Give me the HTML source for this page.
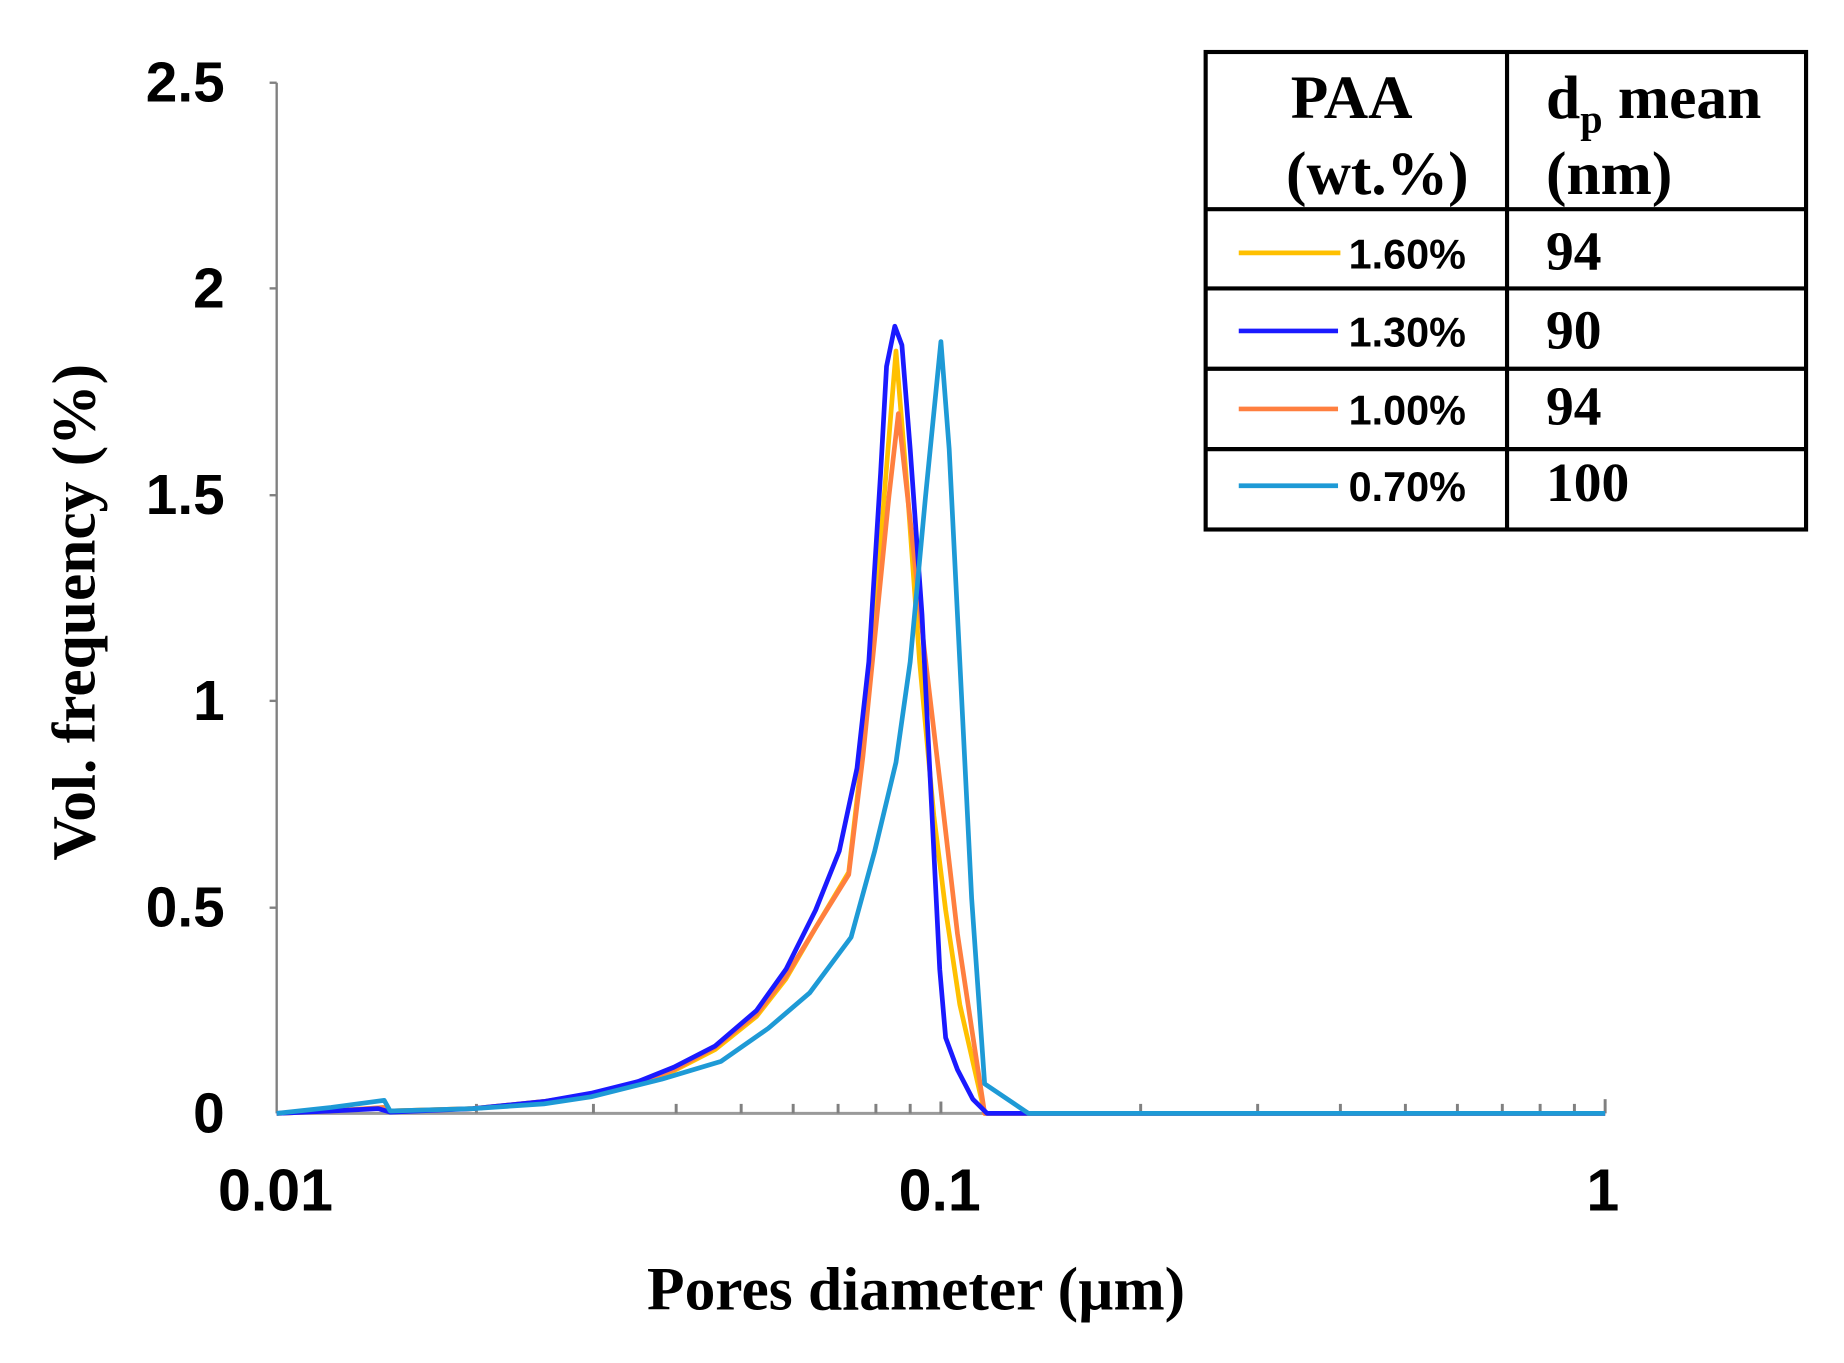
<!DOCTYPE html>
<html><head><meta charset="utf-8"><style>
html,body{margin:0;padding:0;background:#fff;}
</style></head><body>
<svg width="1844" height="1358" viewBox="0 0 1560 1149" xmlns="http://www.w3.org/2000/svg">
<rect width="1560" height="1149" fill="#fff"/>
<line x1="234" y1="70" x2="234" y2="942" stroke="#808080" stroke-width="2"/>
<line x1="234" y1="942" x2="1358" y2="942" stroke="#9a9a9a" stroke-width="2.5"/>
<g stroke="#808080" stroke-width="2">
<line x1="228" y1="70" x2="234" y2="70"/><line x1="228" y1="244" x2="234" y2="244"/><line x1="228" y1="419" x2="234" y2="419"/><line x1="228" y1="593" x2="234" y2="593"/><line x1="228" y1="768" x2="234" y2="768"/>
</g>
<g stroke="#808080" stroke-width="2.5">
<line x1="403" y1="942" x2="403" y2="934"/><line x1="502" y1="942" x2="502" y2="934"/><line x1="572" y1="942" x2="572" y2="934"/><line x1="627" y1="942" x2="627" y2="934"/><line x1="671" y1="942" x2="671" y2="934"/><line x1="709" y1="942" x2="709" y2="934"/><line x1="741" y1="942" x2="741" y2="934"/><line x1="770" y1="942" x2="770" y2="934"/><line x1="796" y1="942" x2="796" y2="932"/>
<line x1="965" y1="942" x2="965" y2="934"/><line x1="1064" y1="942" x2="1064" y2="934"/><line x1="1134" y1="942" x2="1134" y2="934"/><line x1="1189" y1="942" x2="1189" y2="934"/><line x1="1233" y1="942" x2="1233" y2="934"/><line x1="1271" y1="942" x2="1271" y2="934"/><line x1="1303" y1="942" x2="1303" y2="934"/><line x1="1332" y1="942" x2="1332" y2="934"/><line x1="1358" y1="942" x2="1358" y2="930"/>
</g>
<g font-family="Liberation Sans, sans-serif" font-weight="bold" font-size="48" fill="#000" text-anchor="end">
<text x="190" y="86">2.5</text><text x="190" y="260">2</text><text x="190" y="435">1.5</text><text x="190" y="609">1</text><text x="190" y="784">0.5</text><text x="190" y="958">0</text>
</g>
<g font-family="Liberation Sans, sans-serif" font-weight="bold" font-size="50" fill="#000" text-anchor="middle">
<text x="233" y="1024">0.01</text><text x="795" y="1024">0.1</text><text x="1356" y="1024">1</text>
</g>
<text x="775" y="1108" font-family="Liberation Serif, serif" font-weight="bold" font-size="52" text-anchor="middle">Pores diameter (µm)</text>
<text transform="translate(80,518) rotate(-90)" font-family="Liberation Serif, serif" font-weight="bold" font-size="52" text-anchor="middle">Vol. frequency (%)</text>
<g fill="none" stroke-width="4" stroke-linejoin="round">
<polyline stroke="#ffc000" points="234,942 280,940 325,937 330,940 400,938 460,932 500,926 540,917 570,906 605,888 640,860 665,828 690,785 718,738 728,650 738,550 748,420 758,297 768,420 778,560 790,690 800,770 812,850 833,942 1358,942"/>
<polyline stroke="#ff7f3f" points="234,942 280,940 325,937 330,940 400,938 460,932 500,926 540,916 570,905 605,886 640,858 665,826 690,785 718,740 730,640 742,520 752,420 760,350 770,440 782,550 795,660 810,790 822,870 833,942 860,942 1358,942"/>
<polyline stroke="#1a1aff" points="234,942 280,940 320,938 330,941 400,938 460,932 500,925 540,915 570,903 605,885 640,855 665,820 690,770 710,720 725,650 735,560 745,400 750,310 757,276 763,292 770,380 780,520 788,680 795,820 800,878 810,905 823,930 835,942 1358,942"/>
<polyline stroke="#1e9ad6" points="234,942 280,937 325,931 330,940 400,938 460,934 500,928 560,913 610,898 650,870 685,840 720,793 740,720 758,645 770,560 783,420 796,289 803,380 812,560 822,760 833,917 870,942 1358,942"/>
</g>
<g stroke="#000" stroke-width="3.5" fill="none">
<rect x="1020" y="44" width="508" height="404"/>
<line x1="1275" y1="44" x2="1275" y2="448"/>
<line x1="1020" y1="177" x2="1528" y2="177"/>
<line x1="1020" y1="244" x2="1528" y2="244"/>
<line x1="1020" y1="312" x2="1528" y2="312"/>
<line x1="1020" y1="380" x2="1528" y2="380"/>
</g>
<g font-family="Liberation Serif, serif" font-weight="bold" font-size="52" fill="#000">
<text x="1092" y="100">PAA</text>
<text x="1088" y="164">(wt.%)</text>
<text x="1308" y="100">d<tspan font-size="34" dy="12">p</tspan><tspan dy="-12"> mean</tspan></text>
<text x="1308" y="164">(nm)</text>
</g>
<g font-family="Liberation Serif, serif" font-weight="bold" font-size="47" fill="#000">
<text x="1308" y="228">94</text>
<text x="1308" y="295">90</text>
<text x="1308" y="359">94</text>
<text x="1308" y="424">100</text>
</g>
<g stroke-width="4">
<line x1="1048" y1="214" x2="1134" y2="214" stroke="#ffc000"/>
<line x1="1048" y1="280" x2="1132" y2="280" stroke="#1a1aff"/>
<line x1="1048" y1="346" x2="1132" y2="346" stroke="#ff7f3f"/>
<line x1="1048" y1="411" x2="1132" y2="411" stroke="#1e9ad6"/>
</g>
<g font-family="Liberation Sans, sans-serif" font-weight="bold" font-size="35" fill="#000">
<text x="1141" y="227">1.60%</text>
<text x="1141" y="293">1.30%</text>
<text x="1141" y="359">1.00%</text>
<text x="1141" y="424">0.70%</text>
</g>
</svg>
</body></html>
